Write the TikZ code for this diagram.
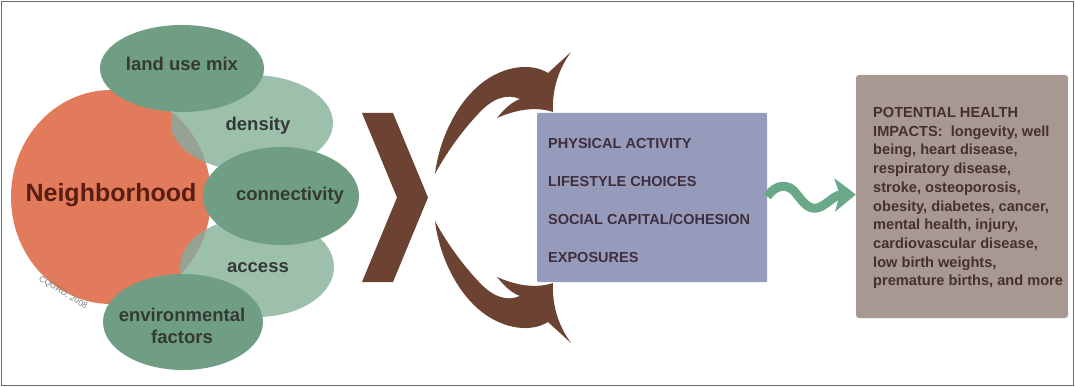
\documentclass[tikz,border=0pt]{standalone}
\usepackage{fontspec}
\setmainfont{Liberation Sans}
\usetikzlibrary{arrows.meta,shapes.geometric}
\definecolor{orangeN}{HTML}{E27B5B}
\definecolor{darkG}{HTML}{6F9E85}
\definecolor{lightG}{HTML}{9DC0AD}
\definecolor{lensC}{HTML}{96A292}
\definecolor{brownC}{HTML}{6C4233}
\definecolor{boxC}{HTML}{979BBB}
\definecolor{healthC}{HTML}{A89892}
\definecolor{nbhdT}{HTML}{5A1E10}
\definecolor{ellT}{HTML}{343A32}
\definecolor{boxT}{HTML}{3F2E3E}
\definecolor{healthTC}{HTML}{46302C}
\definecolor{squigC}{HTML}{6AA88A}
\definecolor{frameC}{HTML}{6A6A6A}
\begin{document}
\begin{tikzpicture}[x=1pt,y=-1pt,
  lightell/.style={ellipse, fill=lightG, inner sep=0pt},
  darkell/.style={ellipse, fill=darkG, inner sep=0pt},
  elltext/.style={font=\fontsize{18.5}{22}\selectfont\bfseries, text=ellT, inner sep=0pt, align=center},
  boxtext/.style={font=\fontsize{14.5}{17}\selectfont\bfseries, text=boxT, inner sep=0pt, anchor=west},
  brownshape/.style={fill=brownC},
  squig/.style={draw=squigC, line width=9pt, -{Stealth[length=21pt,width=33pt,inset=5pt]}}
]
\useasboundingbox (0,0) rectangle (1075,387);
\fill[white] (0,0) rectangle (1075,387);
\draw[frameC, line width=1pt] (1.5,1.5) rectangle (1073.5,385.5);

% light ellipses
\node[lightell, minimum width=162pt, minimum height=96pt] (densE) at (252,123) {};
\node[lightell, minimum width=154pt, minimum height=100pt] (accE) at (257,267) {};
% neighborhood circle
\node[ellipse, fill=orangeN, inner sep=0pt, minimum width=200pt, minimum height=214pt] (nbhd) at (111,197) {};
% lenses
\begin{scope}
  \clip (111,197) ellipse [x radius=100, y radius=107];
  \fill[lensC] (252,123) ellipse [x radius=81, y radius=48];
  \fill[lensC] (257,267) ellipse [x radius=77, y radius=50];
\end{scope}
% dark ellipses
\node[darkell, minimum width=164pt, minimum height=87pt] (landE) at (182,68.5) {};
\node[darkell, minimum width=156pt, minimum height=98pt] (connE) at (281,196) {};
\node[darkell, minimum width=160pt, minimum height=96pt] (envE) at (183,322) {};

% texts
\node[font=\fontsize{25}{28}\selectfont\bfseries, text=nbhdT, inner sep=0pt] (nbhdL) at (111,195.5) {Neighborhood};
\node[elltext] (landL) at (182,64) {land use mix};
\node[elltext] (densL) at (258,126) {density};
\node[elltext] (connL) at (290,196) {connectivity};
\node[elltext] (accL) at (258,268) {access};
\node[elltext] (envL) at (182,326) {environmental\\factors};
\node[rotate=-32, font=\fontsize{8.5}{9}\selectfont, text=gray, inner sep=0pt] (copyL) at (63,293) {CQGRD, 2008};

% chevron
\fill[brownshape] (362,113) -- (393,113) -- (428,197.5) -- (393,282) -- (362,282) -- (397,197.5) -- cycle;
% curved arrows
\fill[brownshape] (435,174) .. controls (439,140) and (457,100) .. (486,80)
  .. controls (505,67) and (530,62) .. (548,73) -- (571,52)
  .. controls (558,70) and (552,90) .. (553,112)
  .. controls (535,106) and (515,110) .. (497,118)
  .. controls (505,108) and (512,102) .. (520,99)
  .. controls (506,93) and (492,99) .. (479,113)
  .. controls (461,132) and (445,155) .. (435,174) -- cycle;
\fill[brownshape] (435,221) .. controls (439,255) and (457,295) .. (486,315)
  .. controls (505,328) and (530,333) .. (548,322) -- (571,343)
  .. controls (558,325) and (552,305) .. (553,283)
  .. controls (535,289) and (515,285) .. (497,277)
  .. controls (505,287) and (512,293) .. (520,296)
  .. controls (506,302) and (492,296) .. (479,282)
  .. controls (461,263) and (445,240) .. (435,221) -- cycle;

% behaviour box
\node[fill=boxC, inner sep=0pt, minimum width=230pt, minimum height=169pt, rounded corners=1pt] (behav) at (652,197.5) {};
\node[boxtext] (b1) at (548,143.5) {PHYSICAL ACTIVITY};
\node[boxtext] (b2) at (548,182) {LIFESTYLE CHOICES};
\node[boxtext] (b3) at (548,219) {SOCIAL CAPITAL/COHESION};
\node[boxtext] (b4) at (548,257.5) {EXPOSURES};

% health box
\node[fill=healthC, inner sep=0pt, minimum width=212pt, minimum height=243pt, rounded corners=3pt] (health) at (962,196.5) {};
\node[anchor=north west, inner sep=0pt, align=left, font=\fontsize{14.6}{18.7}\selectfont\bfseries, text=healthTC] (healthL) at (873,107.2)
{POTENTIAL HEALTH\\IMPACTS:\ \ longevity, well\\being, heart disease,\\respiratory disease,\\stroke, osteoporosis,\\obesity, diabetes, cancer,\\mental health, injury,\\cardiovascular disease,\\low birth weights,\\premature births, and more};

% squiggle arrow
\draw[squig] ([yshift=1pt]behav.east) .. controls (776,184) and (787,184) .. (794,191)
  .. controls (801,199) and (807,210) .. (817,208)
  .. controls (826,206) and (834,195) .. ([yshift=2pt]health.west);
\end{tikzpicture}
\end{document}
